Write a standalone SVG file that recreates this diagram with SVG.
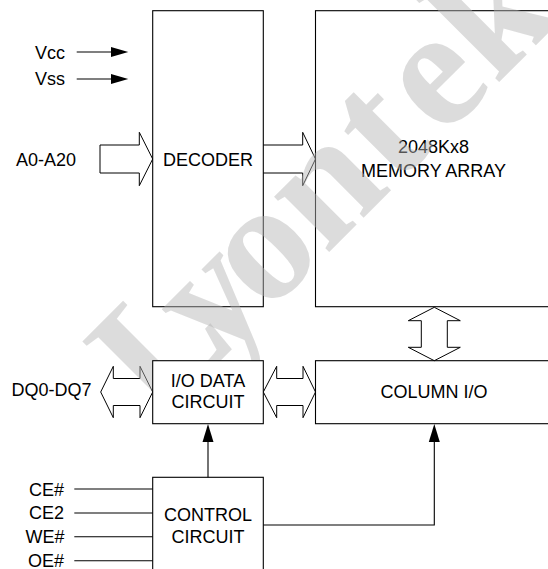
<svg xmlns="http://www.w3.org/2000/svg" width="548" height="569" viewBox="0 0 548 569">
<style>
.box{fill:none;stroke:#000;stroke-width:1.1}
.wbox{fill:#fff;stroke:#000;stroke-width:1.1}
.ln{fill:none;stroke:#000;stroke-width:1.1}
.hol{fill:none;stroke:#000;stroke-width:1;stroke-linejoin:miter}
.head{fill:#000;stroke:none}
text{font-family:"Liberation Sans",Arial,sans-serif;font-size:18px;fill:#000}
.c{text-anchor:middle}
.e{text-anchor:end}
.wm{font-family:"Liberation Serif","Times New Roman",serif;font-weight:bold;font-size:170px;fill:#b5b5b5;fill-opacity:0.47}
</style>
<rect width="548" height="569" fill="#fff"/>
<g id="decoder"><rect class="box" x="152.7" y="10.7" width="110.6" height="296"/><text class="c" x="208" y="166">DECODER</text></g>
<g id="memory-array"><rect class="box" x="315.5" y="10.7" width="240" height="296"/><text class="c" x="433.5" y="153.3">2048Kx8</text><text class="c" x="433.5" y="176.7">MEMORY ARRAY</text></g>
<g id="vcc"><text x="35" y="59">Vcc</text></g>
<g id="vss"><text x="35" y="85">Vss</text></g>
<g id="a0-a20"><text class="e" x="76" y="166">A0-A20</text></g>
<g id="connectors">
<line class="ln" x1="76.7" y1="52" x2="112" y2="52"/><polygon class="head" points="128.3,52 111,47 111,57"/>
<line class="ln" x1="76.7" y1="79" x2="112" y2="79"/><polygon class="head" points="128.3,79 111,74 111,84"/>
<polygon class="hol" points="100,145 139.3,145 139.3,132.3 152.7,159 139.3,185.7 139.3,173 100,173"/>
<polyline class="hol" points="263.3,145 302.7,145 302.7,132.3 315.5,159 302.7,185.7 302.7,173 263.3,173"/>
<polygon class="hol" points="434.3,307.3 460.3,320.7 447.3,320.7 447.3,347.3 460.3,347.3 434.3,360.7 408.3,347.3 421.3,347.3 421.3,320.7 408.3,320.7"/>
<polygon class="hol" points="100.7,392 113.3,366.3 113.3,378.5 140,378.5 140,366.3 152.7,392 140,417.7 140,405.5 113.3,405.5 113.3,417.7"/>
<polygon class="hol" points="263.3,392 276.7,366.3 276.7,378.5 303,378.5 303,366.3 315.5,392 303,417.7 303,405.5 276.7,405.5 276.7,417.7"/>
<line class="ln" x1="208" y1="477.3" x2="208" y2="440"/><polygon class="head" points="208,424 202.5,442 213.5,442"/>
<polyline class="ln" points="263.3,525 434.3,525 434.3,440"/><polygon class="head" points="434.3,424 428.8,442 439.8,442"/>
<line class="ln" x1="74.3" y1="489" x2="152.7" y2="489"/>
<line class="ln" x1="74.3" y1="513" x2="152.7" y2="513"/>
<line class="ln" x1="74.3" y1="536.7" x2="152.7" y2="536.7"/>
<line class="ln" x1="74.3" y1="560.7" x2="152.7" y2="560.7"/>
</g>
<text class="wm" transform="rotate(-45)" x="-186 -106 -34 50 148 214 290" y="411">Lyontek</text>
<g id="io-data-circuit"><rect class="wbox" x="152.7" y="360.7" width="110.6" height="63"/><text class="c" x="208" y="386.7">I/O DATA</text><text class="c" x="208" y="408.3">CIRCUIT</text></g>
<g id="column-io"><rect class="box" x="315.5" y="360.7" width="240" height="63"/><text class="c" x="434" y="397.7">COLUMN I/O</text></g>
<g id="control-circuit"><rect class="box" x="152.7" y="477.3" width="110.6" height="110"/><text class="c" x="208" y="520.7">CONTROL</text><text class="c" x="208" y="542.7">CIRCUIT</text></g>
<g id="dq0-dq7"><text class="e" x="91.5" y="396">DQ0-DQ7</text></g>
<g id="ce"><text class="e" x="64" y="496">CE#</text></g>
<g id="ce2"><text class="e" x="64" y="519.3">CE2</text></g>
<g id="we"><text class="e" x="64.5" y="543">WE#</text></g>
<g id="oe"><text class="e" x="64" y="566.7">OE#</text></g>
</svg>
